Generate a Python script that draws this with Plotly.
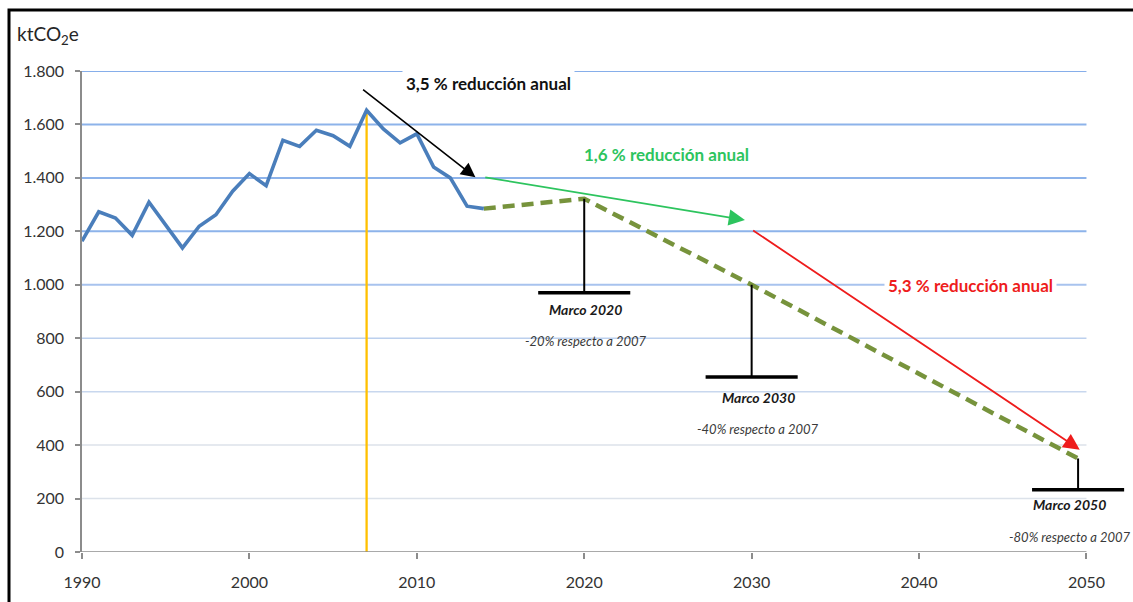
import plotly.graph_objects as go

# ---------------- data ----------------
years_hist = list(range(1990, 2015))
emis_hist = [1163, 1273, 1250, 1185, 1309, 1222, 1138, 1219, 1262, 1350,
             1416, 1371, 1541, 1518, 1578, 1558, 1518, 1653, 1583, 1531,
             1565, 1441, 1400, 1294, 1285]

years_proj = [2014, 2020, 2030, 2049.5]
emis_proj = [1285, 1322, 1000, 350]

ref_year = 2007
ref_value = 1653

marco_base = [970, 655, 233]
marco_labels = ["Marco 2020", "Marco 2030", "Marco 2050"]
marco_notes = ["-20% respecto a 2007", "-40% respecto a 2007", "-80% respecto a 2007"]
marco_label_x = [2020.1, 2030.4, 2049.0]
marco_label_y = [909, 577, 176]
marco_note_y = [790, 460, 56]

# trend arrows: (start_year, start_val, end_year, end_val)
arrow_black = (2006.7, 1735, 2013.5, 1402)
arrow_green = (2014.0, 1403, 2029.6, 1242)
arrow_red = (2030.0, 1207, 2049.6, 383)
rate_texts = ["3,5 % reducción anual", "1,6 % reducción anual", "5,3 % reducción anual"]
rate_pos = [(2014.3, 1755), (2024.9, 1489), (2043.1, 999)]

x_ticks = [1990, 2000, 2010, 2020, 2030, 2040, 2050]
y_ticks = [0, 200, 400, 600, 800, 1000, 1200, 1400, 1600, 1800]

# ---------------- layout geometry ----------------
FIG_W, FIG_H = 1133, 602
M_L, M_R, M_T, M_B = 82, 0, 71, 50
PLOT_W = FIG_W - M_L - M_R
PLOT_H = FIG_H - M_T - M_B


def px_to_paper_x(px):
    return (px - M_L) / PLOT_W


def px_to_paper_y(py):
    return (FIG_H - M_B - py) / PLOT_H


# ---------------- styles ----------------
FONT = "Lato"
TXT = "#333333"
AXIS = "#8C8C8C"
grid_colors = {200: "#DCE2EA", 400: "#DCE2EA", 600: "#C8D7EE", 800: "#BCD0EE",
               1000: "#A8C3EE", 1200: "#8DB3EA", 1400: "#8DB3EA", 1600: "#8DB3EA",
               1800: "#86AEEA"}
BLACK_ARROW = "#000000"
GREEN = "#2DC45E"
RED = "#EE1C1C"

fig = go.Figure()

# reference year line
fig.add_trace(go.Scatter(x=[ref_year, ref_year], y=[0, ref_value], mode="lines",
                         line=dict(color="#FFC000", width=2.3), hoverinfo="skip"))
# projected path
fig.add_trace(go.Scatter(x=years_proj, y=emis_proj, mode="lines",
                         line=dict(color="#77933C", width=4.5, dash="12px,7px"),
                         hoverinfo="skip"))
# historical emissions
fig.add_trace(go.Scatter(x=years_hist, y=emis_hist, mode="lines",
                         line=dict(color="#4A7EBB", width=3.6), hoverinfo="skip"))

shapes = []
# gridlines (only up to 2050)
for v in y_ticks[1:]:
    shapes.append(dict(type="line", xref="x", yref="y", x0=x_ticks[0], x1=x_ticks[-1],
                       y0=v, y1=v, layer="below",
                       line=dict(color=grid_colors[v], width=2 if v >= 1000 else 1.5)))
# x axis line
shapes.append(dict(type="line", xref="x", yref="y", x0=x_ticks[0], x1=x_ticks[-1],
                   y0=0, y1=0, line=dict(color=AXIS, width=1.5)))
# Marco markers
for yr, top, base in zip(years_proj[1:], emis_proj[1:], marco_base):
    shapes.append(dict(type="line", xref="x", yref="y", x0=yr, x1=yr, y0=top, y1=base,
                       line=dict(color="black", width=2)))
    shapes.append(dict(type="line", xref="x", yref="y", x0=yr - 2.75, x1=yr + 2.75,
                       y0=base, y1=base, line=dict(color="black", width=3.5)))
# outer frame (top and left edges visible)
shapes.append(dict(type="rect", xref="paper", yref="paper",
                   x0=px_to_paper_x(9), x1=1.2, y0=-0.3, y1=px_to_paper_y(10),
                   line=dict(color="black", width=3), fillcolor="rgba(0,0,0,0)"))

annotations = []
# arrows
for (x0, y0, x1, y1), col, w in [(arrow_black, BLACK_ARROW, 1.6),
                                  (arrow_green, GREEN, 1.8),
                                  (arrow_red, RED, 1.8)]:
    annotations.append(dict(x=x1, y=y1, ax=x0, ay=y0, xref="x", yref="y",
                            axref="x", ayref="y", text="", showarrow=True,
                            arrowhead=2, arrowsize=1.8, arrowwidth=w,
                            arrowcolor=col, standoff=0))
# rate texts
for txt, (px, py), col in zip(rate_texts, rate_pos, ["#111111", GREEN, RED]):
    annotations.append(dict(x=px, y=py, xref="x", yref="y", text="<b>" + txt + "</b>",
                            showarrow=False, font=dict(family=FONT, size=17, color=col),
                            bgcolor="white", borderpad=3))
# marco labels
for lx, ly, ny, lab, note in zip(marco_label_x, marco_label_y, marco_note_y,
                                 marco_labels, marco_notes):
    annotations.append(dict(x=lx, y=ly, xref="x", yref="y", text="<b><i>" + lab + "</i></b>",
                            showarrow=False, font=dict(family=FONT, size=14, color="#1A1A1A")))
    annotations.append(dict(x=lx, y=ny, xref="x", yref="y", text="<i>" + note + "</i>",
                            showarrow=False, font=dict(family=FONT, size=13, color="#3A3A3A")))
# unit label
annotations.append(dict(x=px_to_paper_x(15), y=px_to_paper_y(35), xref="paper", yref="paper",
                        xanchor="left", yanchor="middle", text="ktCO<sub>2</sub>e",
                        showarrow=False, font=dict(family=FONT, size=19, color="#262626")))

fig.update_layout(
    width=FIG_W, height=FIG_H,
    margin=dict(l=M_L, r=M_R, t=M_T, b=M_B),
    paper_bgcolor="white", plot_bgcolor="white",
    showlegend=False,
    separators=",.",
    font=dict(family=FONT, size=16, color=TXT),
    shapes=shapes, annotations=annotations,
    xaxis=dict(range=[1990, 2052.78], tickvals=x_ticks, showgrid=False, zeroline=False,
               showline=False, ticks="outside", ticklen=6, tickcolor=AXIS, tickwidth=1.5,
               ticklabelstandoff=10, tickfont=dict(family=FONT, size=16, color=TXT)),
    yaxis=dict(range=[0, 1800], tickvals=y_ticks, tickformat=",d", showgrid=False,
               zeroline=False, showline=True, linecolor=AXIS, linewidth=1.5,
               ticks="outside", ticklen=5, tickcolor=AXIS, tickwidth=1.5,
               ticklabelstandoff=8, tickfont=dict(family=FONT, size=16, color=TXT)),
)

fig.write_html(
    "out.html",
    config={"displayModeBar": False},
    post_script="document.body.style.margin='0';"
                "document.documentElement.style.overflow='hidden';"
                "document.body.style.overflow='hidden';",
)
